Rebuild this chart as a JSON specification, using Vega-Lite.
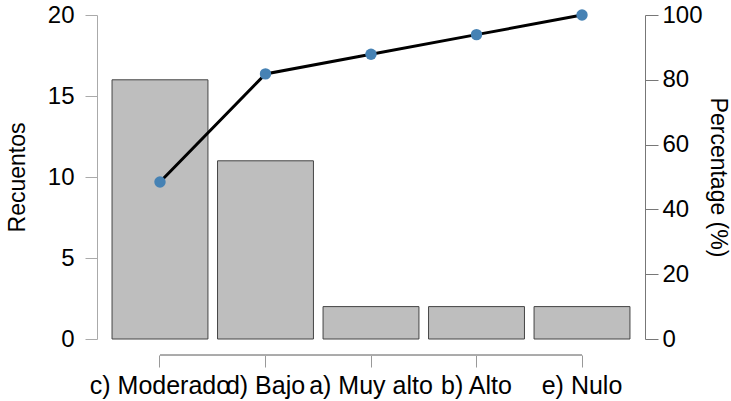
{
  "$schema": "https://vega.github.io/schema/vega-lite/v6.json",
  "width": 548,
  "height": 324,
  "autosize": "none",
  "padding": {"left": 97, "top": 15, "right": 86, "bottom": 62},
  "config": {
    "view": {"stroke": null},
    "font": "Liberation Sans",
    "axis": {
      "grid": false,
      "labelFont": "Liberation Sans",
      "titleFont": "Liberation Sans",
      "labelFontSize": 24,
      "titleFontSize": 23,
      "titleFontWeight": "normal",
      "labelColor": "black",
      "titleColor": "black"
    }
  },
  "data": {
    "values": [
      {"cat": "c) Moderado", "n": 16, "pct": 48.48},
      {"cat": "d) Bajo", "n": 11, "pct": 81.82},
      {"cat": "a) Muy alto", "n": 2, "pct": 87.88},
      {"cat": "b) Alto", "n": 2, "pct": 93.94},
      {"cat": "e) Nulo", "n": 2, "pct": 100}
    ]
  },
  "encoding": {
    "x": {
      "field": "cat",
      "type": "nominal",
      "sort": null,
      "scale": {"paddingInner": 0.091, "paddingOuter": 0.1425},
      "axis": {
        "title": null,
        "labelAngle": 0,
        "labelFontSize": 25,
        "domain": false,
        "offset": 16,
        "tickSize": 12,
        "tickColor": "#999999",
        "labelPadding": 6,
        "labelOverlap": false
      }
    }
  },
  "layer": [
    {
      "layer": [
        {
          "mark": {"type": "bar", "fill": "#bebebe", "stroke": "#444444", "strokeWidth": 1},
          "encoding": {
            "y": {
              "field": "n",
              "type": "quantitative",
              "scale": {"domain": [0, 20], "nice": false},
              "axis": {
                "title": "Recuentos",
                "values": [0, 5, 10, 15, 20],
                "domainColor": "#aaaaaa",
                "tickColor": "#aaaaaa",
                "tickSize": 12,
                "labelPadding": 11,
                "titlePadding": 18
              }
            }
          }
        },
        {
          "mark": {"type": "rule", "color": "#aaaaaa", "strokeWidth": 1.5, "clip": false},
          "encoding": {
            "x": {"datum": "c) Moderado", "type": "nominal"},
            "x2": {"datum": "e) Nulo"},
            "y": {"datum": -1, "type": "quantitative"}
          }
        }
      ]
    },
    {
      "layer": [
        {
          "mark": {"type": "line", "color": "black", "strokeWidth": 3},
          "encoding": {
            "y": {
              "field": "pct",
              "type": "quantitative",
              "scale": {"domain": [0, 100], "nice": false},
              "axis": {
                "orient": "right",
                "title": "Percentage (%)",
                "titleAngle": 90,
                "values": [0, 20, 40, 60, 80, 100],
                "domainColor": "#777777",
                "tickColor": "#777777",
                "tickSize": 13,
                "labelPadding": 4,
                "titlePadding": 3
              }
            }
          }
        },
        {
          "mark": {"type": "point", "filled": true, "color": "steelblue", "size": 130, "opacity": 1},
          "encoding": {
            "y": {"field": "pct", "type": "quantitative"}
          }
        }
      ]
    }
  ],
  "resolve": {"scale": {"y": "independent"}}
}
